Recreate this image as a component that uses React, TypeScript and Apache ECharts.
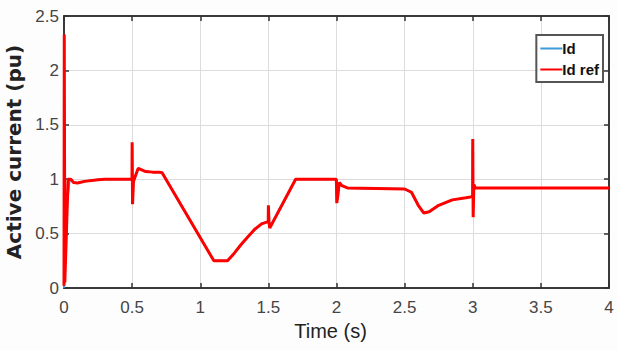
import React, { useEffect, useRef } from "react";
import * as echarts from "echarts";

const xTicks = [0, 0.5, 1, 1.5, 2, 2.5, 3, 3.5, 4];
const yTicks = [0, 0.5, 1, 1.5, 2, 2.5];

const refTime = [
  0, 0.002, 0.006, 0.02, 0.03, 0.05, 0.07, 0.1, 0.15, 0.25, 0.3, 0.499, 0.5, 0.503, 0.51, 0.53, 0.545,
  0.6, 0.65, 0.7, 0.72, 1.1, 1.2, 1.25, 1.3, 1.35, 1.4, 1.45, 1.499, 1.5, 1.505, 1.51, 1.7, 1.999,
  2.002, 2.01, 2.02, 2.04, 2.08, 2.5, 2.55, 2.6, 2.64, 2.68, 2.75, 2.85, 2.95, 2.999, 3.0, 3.003,
  3.008, 3.02, 4,
];
const refValue = [
  0.02, 2.33, 0.05, 0.6, 1.0, 1.0, 0.97, 0.965, 0.98, 0.995, 1.0, 1.0, 1.34, 0.77, 0.98, 1.05, 1.1,
  1.07, 1.065, 1.065, 1.06, 0.25, 0.25, 0.32, 0.4, 0.47, 0.54, 0.59, 0.61, 0.76, 0.6, 0.55, 1.0, 1.0,
  0.78, 0.85, 0.97, 0.94, 0.92, 0.91, 0.88, 0.76, 0.69, 0.7, 0.76, 0.81, 0.83, 0.84, 1.37, 0.65,
  0.95, 0.92, 0.92,
];

const idTime = [
  0, 0.01, 0.025, 0.04, 0.05, 0.07, 0.1, 0.15, 0.25, 0.3, 0.499, 0.5, 0.503, 0.51, 0.53, 0.545, 0.6,
  0.65, 0.7, 0.72, 1.1, 1.2, 1.25, 1.3, 1.35, 1.4, 1.45, 1.499, 1.5, 1.505, 1.51, 1.7, 1.999, 2.002,
  2.01, 2.02, 2.04, 2.08, 2.5, 2.55, 2.6, 2.64, 2.68, 2.75, 2.85, 2.95, 2.999, 3.0, 3.003, 3.008,
  3.02, 4,
];
const idValue = [
  0, 0.3, 0.8, 0.98, 1.0, 0.97, 0.965, 0.98, 0.995, 1.0, 1.0, 1.3, 0.8, 0.98, 1.05, 1.1, 1.07, 1.065,
  1.065, 1.06, 0.25, 0.25, 0.32, 0.4, 0.47, 0.54, 0.59, 0.61, 0.74, 0.6, 0.56, 1.0, 1.0, 0.8, 0.85,
  0.96, 0.94, 0.92, 0.91, 0.88, 0.76, 0.69, 0.7, 0.76, 0.81, 0.83, 0.84, 1.3, 0.68, 0.95, 0.92, 0.92,
];

const FONT = "Liberation Sans, Arial, sans-serif";

export default function App() {
  const ref = useRef<HTMLDivElement>(null);
  useEffect(() => {
    if (!ref.current) return;
    const chart = echarts.init(ref.current, undefined, { renderer: "svg" });
    const tickLabel = { color: "#454545", fontSize: 17, fontFamily: FONT };
    const frameLine = { show: true, onZero: false, lineStyle: { color: "#3a3a3a", width: 2 } };
    const innerTick = { show: true, inside: true, length: 5, lineStyle: { color: "#333", width: 1.5 } };
    chart.setOption({
      animation: false,
      backgroundColor: "#fdfdfd",
      grid: {
        left: 64,
        right: 9,
        top: 16,
        bottom: 63,
        show: true,
        borderWidth: 0,
        backgroundColor: "#ffffff",
        containLabel: false,
        outerBoundsMode: "none",
      },
      legend: {
        orient: "vertical",
        right: 15,
        top: 35,
        icon: "rect",
        itemWidth: 22,
        itemHeight: 2,
        itemGap: 6,
        padding: [6, 4, 5, 4],
        borderColor: "#555",
        borderWidth: 2,
        backgroundColor: "#fff",
        textStyle: { color: "#111", fontSize: 15, fontWeight: "bold", fontFamily: FONT, padding: [0, 0, 0, -5] },
        data: ["Id", "Id ref"],
      },
      xAxis: [
        {
          type: "value",
          min: 0,
          max: 4,
          interval: 0.5,
          name: "Time (s)",
          nameLocation: "middle",
          nameGap: 33,
          nameTextStyle: { color: "#222", fontSize: 20, fontFamily: FONT, padding: [0, 12, 0, 0] },
          axisLine: frameLine,
          axisTick: innerTick,
          axisLabel: { ...tickLabel, margin: 11, formatter: (v: number) => (xTicks.includes(v) ? String(v) : "") },
          splitLine: { show: true, lineStyle: { color: "#dcdcdc", width: 1 } },
        },
        {
          type: "value",
          position: "top",
          min: 0,
          max: 4,
          interval: 0.5,
          axisLine: frameLine,
          axisTick: innerTick,
          axisLabel: { show: false },
          splitLine: { show: false },
        },
      ],
      yAxis: [
        {
          type: "value",
          min: 0,
          max: 2.5,
          interval: 0.5,
          name: "Active current (pu)",
          nameLocation: "middle",
          nameGap: 37,
          nameTextStyle: { color: "#222", fontSize: 20, fontWeight: "bold", fontFamily: "DejaVu Sans, sans-serif" },
          axisLine: frameLine,
          axisTick: innerTick,
          axisLabel: { ...tickLabel, margin: 5, formatter: (v: number) => (yTicks.includes(v) ? String(v) : "") },
          splitLine: { show: true, lineStyle: { color: "#dcdcdc", width: 1 } },
        },
        {
          type: "value",
          position: "right",
          min: 0,
          max: 2.5,
          interval: 0.5,
          axisLine: frameLine,
          axisTick: innerTick,
          axisLabel: { show: false },
          splitLine: { show: false },
        },
      ],
      series: [
        {
          name: "Id",
          type: "line",
          symbol: "none",
          color: "#3d9ad6",
          lineStyle: { width: 2, color: "#3d9ad6" },
          data: idTime.map((t, i) => [t, idValue[i]]),
          z: 2,
        },
        {
          name: "Id ref",
          type: "line",
          symbol: "none",
          color: "#ff0000",
          lineStyle: { width: 3, color: "#ff0000" },
          data: refTime.map((t, i) => [t, refValue[i]]),
          z: 3,
        },
      ],
    });
    return () => chart.dispose();
  }, []);
  return <div ref={ref} style={{ position: "fixed", left: 0, top: 0, width: 618, height: 351 }} />;
}
